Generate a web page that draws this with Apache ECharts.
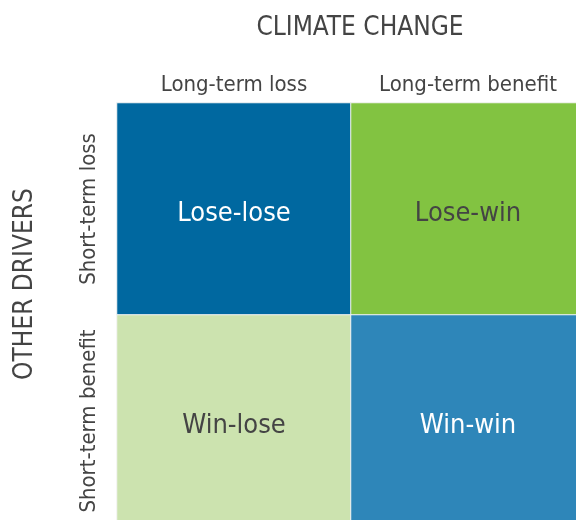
<!DOCTYPE html>
<html>
<head>
<meta charset="utf-8">
<script src="https://cdn.jsdelivr.net/npm/echarts@6/dist/echarts.min.js"></script>
<style>html,body{margin:0;padding:0;background:#fff;}#c{width:576px;height:520px;}</style>
</head>
<body>
<div id="c"></div>
<script>
const xCategories = ['Long-term loss', 'Long-term benefit'];
const yCategories = ['Short-term loss', 'Short-term benefit'];
const cellNames = ['Lose-lose', 'Lose-win', 'Win-lose', 'Win-win'];
const cellX = [0, 1, 0, 1];
const cellY = [0, 0, 1, 1];
const cellColors = ['#0068A0', '#82C341', '#CCE3AF', '#2E86B9'];
const cellTextColors = ['#ffffff', '#444444', '#444444', '#ffffff'];
const xTitle = 'CLIMATE CHANGE';
const yTitle = 'OTHER DRIVERS';

const FONT = '"DejaVu Sans Condensed", "Liberation Sans Narrow", sans-serif';
const chart = echarts.init(document.getElementById('c'), null, {renderer: 'canvas'});

const data = cellNames.map((n, i) => ({
  value: [cellX[i], cellY[i], i],
  name: n,
  label: {color: cellTextColors[i]}
}));

chart.setOption({
  animation: false,
  backgroundColor: '#fff',
  grid: {left: 117, top: 103, width: 468, height: 424, containLabel: false, outerBoundsMode: 'none'},
  xAxis: {
    type: 'category', data: xCategories, position: 'top',
    axisLine: {show: false}, axisTick: {show: false}, splitLine: {show: false},
    axisLabel: {fontFamily: FONT, fontSize: 22, color: '#444', margin: 7, interval: 0, hideOverlap: false}
  },
  yAxis: {
    type: 'category', data: yCategories, inverse: true,
    axisLine: {show: false}, axisTick: {show: false}, splitLine: {show: false},
    axisLabel: {fontFamily: FONT, fontSize: 22, color: '#444', rotate: 90, margin: 17, interval: 0, hideOverlap: false}
  },
  visualMap: {
    show: false, type: 'piecewise', dimension: 2,
    pieces: cellColors.map((c, i) => ({value: i, color: c}))
  },
  graphic: [
    {type: 'text', x: 360, y: 28, style: {text: xTitle, fontFamily: FONT, fontSize: 26, fill: '#444', align: 'center', verticalAlign: 'middle'}},
    {type: 'text', rotation: Math.PI / 2, x: 25, y: 284, style: {text: yTitle, fontFamily: FONT, fontSize: 26, fill: '#444', align: 'center', verticalAlign: 'middle'}}
  ],
  series: [{
    type: 'heatmap',
    data: data,
    itemStyle: {borderColor: '#f4f4f4', borderWidth: 1},
    label: {show: true, fontFamily: FONT, fontSize: 27, offset: [0, 5], formatter: p => p.name},
    emphasis: {disabled: true}
  }]
});
</script>
</body>
</html>
